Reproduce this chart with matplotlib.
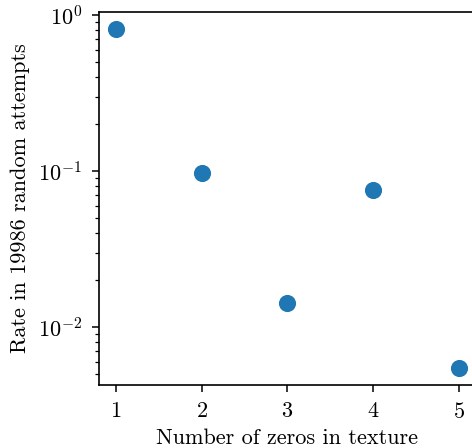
import numpy as np
import matplotlib
matplotlib.use('Agg')
import matplotlib.pyplot as plt

plt.rcParams['font.family'] = 'serif'
plt.rcParams['font.serif'] = ['cmr10']
plt.rcParams['mathtext.fontset'] = 'cm'
plt.rcParams['axes.formatter.use_mathtext'] = True
plt.rcParams['axes.unicode_minus'] = False

# zeros in texture vs. rate
n_zeros = [1, 2, 3, 4, 5]
rate = [0.814, 0.098, 0.0142, 0.0757, 0.00548]

fig = plt.figure(figsize=(4.72, 4.48), dpi=100)
ax = fig.add_axes([0.2097, 0.1406, 0.7987, 0.8326])
ax.scatter(n_zeros, rate, s=128, color='#1f77b4', zorder=3)
ax.set_yscale('log')
ax.set_xticks(n_zeros)
ax.set_xlabel('Number of zeros in texture', fontsize=16, labelpad=5)
ax.set_ylabel('Rate in 19986 random attempts', fontsize=16, labelpad=6)
ax.tick_params(labelsize=16, length=5, width=1.1, pad=7)
ax.tick_params(which='minor', length=3, width=0.9)
for s in ax.spines.values():
    s.set_linewidth(1.2)

fig.savefig('out.png', dpi=100)
